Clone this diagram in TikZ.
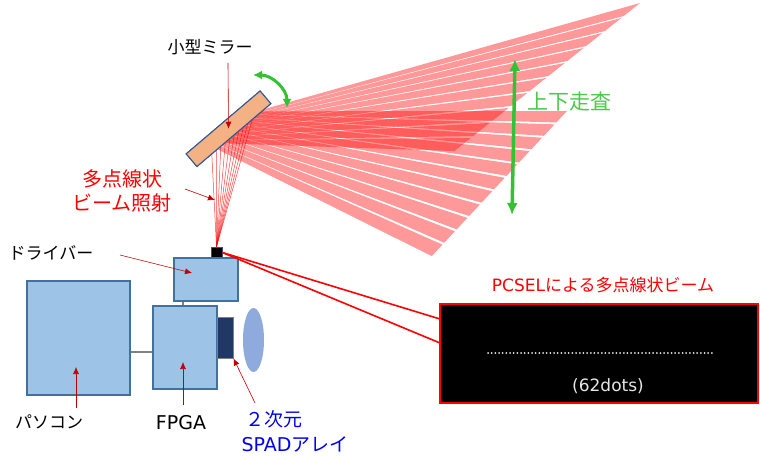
\documentclass[tikz,border=0pt]{standalone}
\usepackage{fontspec}
\setmainfont{Noto Sans CJK JP}
\newfontfamily\lat{DejaVu Sans}
\usetikzlibrary{calc,arrows.meta,shapes.geometric}
\definecolor{boxfill}{HTML}{9DC3E6}
\definecolor{boxline}{HTML}{41719C}
\definecolor{mirrorfill}{HTML}{F4B183}
\definecolor{mirrorline}{HTML}{2F5597}
\definecolor{darkred}{HTML}{C00000}
\definecolor{scangreen}{HTML}{33C233}
\definecolor{labelgreen}{HTML}{4CC84C}
\definecolor{spadfill}{HTML}{1F3864}
\definecolor{lensfill}{HTML}{8FAADC}
\definecolor{labelblue}{HTML}{0000F0}
\definecolor{dotgray}{HTML}{E6E6E6}
\newcommand{\fs}[1]{\fontsize{#1}{#1}\selectfont}
\begin{document}
\begin{tikzpicture}[x=1pt,y=-1pt,
  unit/.style={draw=boxline, fill=boxfill, line width=1.2pt, inner sep=0pt},
  beam/.style={fill=red, fill opacity=0.4},
  ray/.style={draw=red, line width=0.5pt, opacity=0.75},
  lblarrow/.style={draw=darkred, line width=0.6pt, -{Latex[length=7pt,width=6pt]}},
  scan/.style={draw=scangreen, line width=3pt, {Latex[length=9pt,width=9pt]}-{Latex[length=9pt,width=9pt]}},
  txt/.style={inner sep=0pt, align=center}
]
\useasboundingbox (0,0) rectangle (760,457);

% ---- mirror and light source ----
\node[draw=mirrorline, fill=mirrorfill, line width=1pt, inner sep=0pt,
      minimum width=97pt, minimum height=16.6pt, rotate=40.4] (mirror) at (228.5,128.75) {};
\node[fill=black, draw=mirrorline, line width=0.6pt, inner sep=0pt,
      minimum width=11pt, minimum height=11pt] (pcsel) at (216.5,252.5) {};
\coordinate (FA) at (mirror.south west);
\coordinate (FB) at (mirror.south east);

% ---- reflected beams: upper fan (stripes leave the mirror face) ----
\coordinate (UA) at (640,3);
\coordinate (UB) at (452,153);
\foreach \i in {0,...,9}{
  \pgfmathsetmacro\ta{\i/10}
  \pgfmathsetmacro\tb{(\i+1)/10-0.013}
  \pgfmathsetmacro\sa{0.92-0.055*\i}
  \pgfmathsetmacro\sb{\sa-0.05}
  \fill[beam] ($(FA)!\sa!(FB)$) -- ($(UA)!\ta!(UB)$) -- ($(UA)!\tb!(UB)$) -- ($(FA)!\sb!(FB)$) -- cycle;
}
% ---- reflected beams: lower fan ----
\coordinate (LA) at (567,111);
\coordinate (LB) at (430,258);
\foreach \i in {0,...,10}{
  \pgfmathsetmacro\ta{\i/11}
  \pgfmathsetmacro\tb{(\i+1)/11-0.013}
  \pgfmathsetmacro\sa{0.88-0.055*\i}
  \pgfmathsetmacro\sb{\sa-0.05}
  \fill[beam] ($(FA)!\sa!(FB)$) -- ($(LA)!\ta!(LB)$) -- ($(LA)!\tb!(LB)$) -- ($(FA)!\sb!(FB)$) -- cycle;
}

% ---- incident multi-point line beam ----
\foreach \t in {0.20,0.26,...,0.76}{
  \draw[ray] (pcsel.north) -- ($(FA)!\t!(FB)$);
}
% mirror drawn again on top of the rays
\node[draw=mirrorline, fill=mirrorfill, line width=1pt, inner sep=0pt,
      minimum width=97pt, minimum height=16.6pt, rotate=40.4] (mirrortop) at (mirror.center) {};

% ---- scan arrows ----
\coordinate (sw1) at (253,75);
\coordinate (sw2) at (287,108);
\draw[scan] (sw1) .. controls (272,75) and (287,89) .. (sw2);
\coordinate (vs1) at (515,59);
\coordinate (vs2) at (512,215);
\draw[scan, line width=3.5pt, {Latex[length=12pt,width=11pt]}-{Latex[length=12pt,width=11pt]}] (vs1) -- (vs2);
\node[txt, text=labelgreen, font=\fs{21}] (scanlbl) at (569,102) {上下走査};

% ---- hardware blocks ----
\node[unit, minimum width=64pt, minimum height=43pt] (driver) at (206,279.5) {};
\node[unit, minimum width=64pt, minimum height=83pt] (fpga) at (185,347.5) {};
\node[unit, minimum width=103pt, minimum height=114pt] (pc) at (78.5,338) {};
\node[draw=gray, fill=spadfill, line width=1pt, inner sep=0pt,
      minimum width=16pt, minimum height=41pt] (spad) at (225,337.5) {};
\node[ellipse, fill=lensfill, inner sep=0pt,
      minimum width=21pt, minimum height=64pt] (lens) at (253.5,340) {};
\draw[gray, line width=1.5pt] (driver.south -| 183,0) -- (fpga.north -| 183,0);
\draw[gray, line width=1.5pt] (pc.east |- 0,352) -- (fpga.west |- 0,352);

% ---- beam profile view ----
\node[fill=black, draw=red, line width=2pt, inner sep=0pt,
      minimum width=318pt, minimum height=99pt] (view) at (599,353.5) {};
\coordinate (v1) at (440,319);
\coordinate (v2) at (440,343);
\draw[red, line width=1.6pt] (pcsel.east) -- (v1);
\draw[red, line width=1.6pt] (pcsel.east) -- (v2);
\foreach \i in {0,...,61}{
  \fill[dotgray] ({488+\i*3.67},353) circle (1pt);
}
\node[txt, text=dotgray, font=\lat\fs{17}] (dots) at (608,386) {(62dots)};
\node[txt, text=red, font=\fs{17}] (viewlbl) at (603,285) {{\lat PCSEL}による多点線状ビーム};

% ---- labels ----
\node[txt, font=\fs{17}] (mirrorlbl) at (210,47) {小型ミラー};
\coordinate (m0) at (228,63);
\draw[lblarrow] (m0) -- (mirror.center);

\node[txt, text=red, font=\fontsize{20}{24}\selectfont] (beamlbl) at (122,191) {多点線状\\ビーム照射};
\coordinate (b0) at (185,189);
\coordinate (b1) at (215,200);
\draw[lblarrow] (b0) -- (b1);

\node[txt, font=\fs{17}] (drvlbl) at (51,253) {ドライバー};
\coordinate (d0) at (120,255);
\coordinate (d1) at (192,273);
\draw[lblarrow] (d0) -- (d1);

\node[txt, font=\fs{17}] (pclbl) at (49,422) {パソコン};
\coordinate (p0) at (76,408);
\coordinate (p1) at (76,367);
\draw[lblarrow] (p0) -- (p1);

\node[txt, font=\lat\fs{19}] (fpgalbl) at (181,423) {FPGA};
\coordinate (f0) at (183,405);
\coordinate (f1) at (183,362);
\draw[lblarrow] (f0) -- (f1);

\node[txt, text=labelblue, font=\fontsize{19}{25}\selectfont, align=left] (spadlbl) at (295,431) {\hspace*{4pt}２次元\\{\lat SPAD}アレイ};
\coordinate (s0) at (255,403);
\draw[lblarrow] (s0) -- (spad.south east);
\end{tikzpicture}
\end{document}
